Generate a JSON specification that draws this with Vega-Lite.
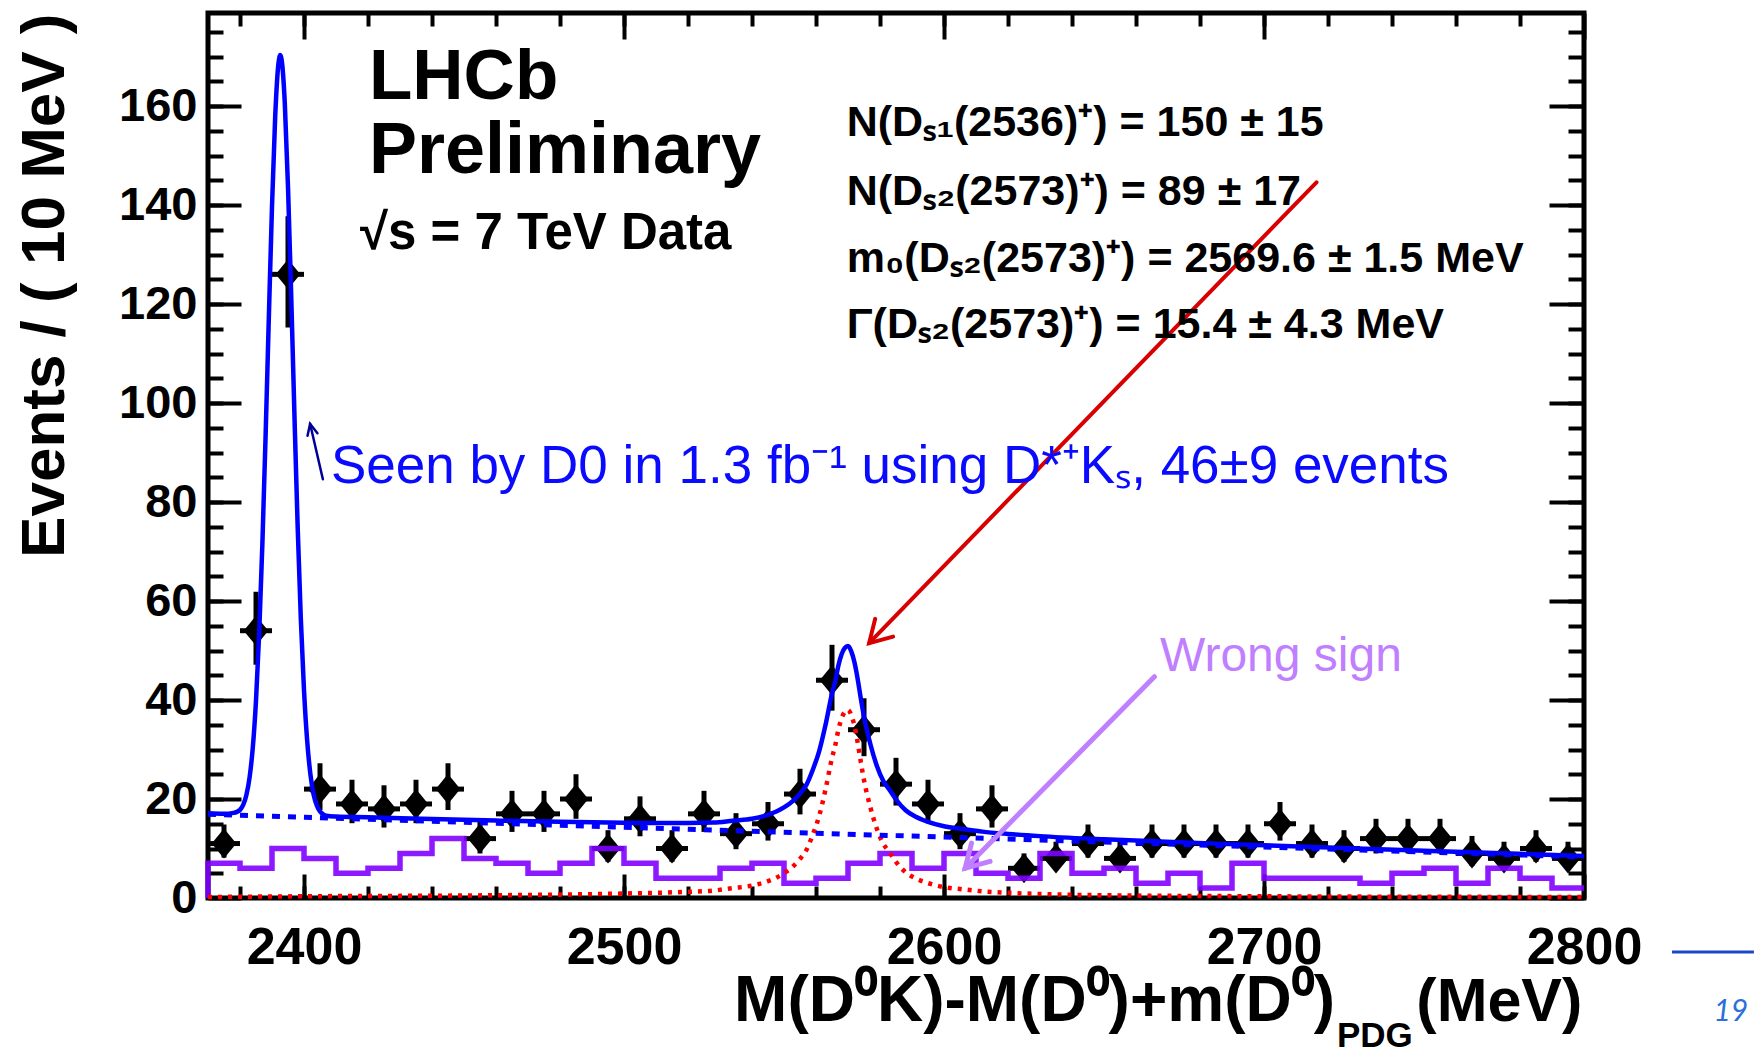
{
  "$schema": "https://vega.github.io/schema/vega-lite/v6.json",
  "width": 1376,
  "height": 885,
  "autosize": {"type": "none"},
  "padding": {"left": 208, "top": 13, "right": 170, "bottom": 151},
  "background": "white",
  "config": {
    "view": {"stroke": "black", "strokeWidth": 5},
    "font": "Liberation Sans",
    "axis": {
      "grid": false,
      "domain": false,
      "tickColor": "black",
      "tickWidth": 4,
      "labelColor": "black",
      "labelFont": "Liberation Sans",
      "labelFontWeight": "bold",
      "titleFont": "Liberation Sans",
      "titleColor": "black"
    }
  },
  "resolve": {"axis": {"x": "independent", "y": "independent"}},
  "datasets": {
    "data": [
      {"m": 2375, "v": 11, "lo": 8.15, "hi": 14.85, "b0": 2370, "b1": 2380},
      {"m": 2385, "v": 54, "lo": 47.13, "hi": 61.87, "b0": 2380, "b1": 2390},
      {"m": 2395, "v": 126, "lo": 115.26, "hi": 137.74, "b0": 2390, "b1": 2400},
      {"m": 2405, "v": 22, "lo": 17.78, "hi": 27.22, "b0": 2400, "b1": 2410},
      {"m": 2415, "v": 19, "lo": 15.11, "hi": 23.89, "b0": 2410, "b1": 2420},
      {"m": 2425, "v": 18, "lo": 14.23, "hi": 22.77, "b0": 2420, "b1": 2430},
      {"m": 2435, "v": 19, "lo": 15.11, "hi": 23.89, "b0": 2430, "b1": 2440},
      {"m": 2445, "v": 22, "lo": 17.78, "hi": 27.22, "b0": 2440, "b1": 2450},
      {"m": 2455, "v": 12, "lo": 9.0, "hi": 16.0, "b0": 2450, "b1": 2460},
      {"m": 2465, "v": 17, "lo": 13.35, "hi": 21.65, "b0": 2460, "b1": 2470},
      {"m": 2475, "v": 17, "lo": 13.35, "hi": 21.65, "b0": 2470, "b1": 2480},
      {"m": 2485, "v": 20, "lo": 16.0, "hi": 25.0, "b0": 2480, "b1": 2490},
      {"m": 2495, "v": 10, "lo": 7.3, "hi": 13.7, "b0": 2490, "b1": 2500},
      {"m": 2505, "v": 16, "lo": 12.47, "hi": 20.53, "b0": 2500, "b1": 2510},
      {"m": 2515, "v": 10, "lo": 7.3, "hi": 13.7, "b0": 2510, "b1": 2520},
      {"m": 2525, "v": 17, "lo": 13.35, "hi": 21.65, "b0": 2520, "b1": 2530},
      {"m": 2535, "v": 13, "lo": 9.86, "hi": 17.14, "b0": 2530, "b1": 2540},
      {"m": 2545, "v": 15, "lo": 11.6, "hi": 19.4, "b0": 2540, "b1": 2550},
      {"m": 2555, "v": 21, "lo": 16.89, "hi": 26.11, "b0": 2550, "b1": 2560},
      {"m": 2565, "v": 44, "lo": 37.85, "hi": 51.15, "b0": 2560, "b1": 2570},
      {"m": 2575, "v": 34, "lo": 28.65, "hi": 40.35, "b0": 2570, "b1": 2580},
      {"m": 2585, "v": 23, "lo": 18.68, "hi": 28.32, "b0": 2580, "b1": 2590},
      {"m": 2595, "v": 19, "lo": 15.11, "hi": 23.89, "b0": 2590, "b1": 2600},
      {"m": 2605, "v": 13, "lo": 9.86, "hi": 17.14, "b0": 2600, "b1": 2610},
      {"m": 2615, "v": 18, "lo": 14.23, "hi": 22.77, "b0": 2610, "b1": 2620},
      {"m": 2625, "v": 6, "lo": 4.0, "hi": 9.0, "b0": 2620, "b1": 2630},
      {"m": 2635, "v": 8, "lo": 5.63, "hi": 11.37, "b0": 2630, "b1": 2640},
      {"m": 2645, "v": 11, "lo": 8.15, "hi": 14.85, "b0": 2640, "b1": 2650},
      {"m": 2655, "v": 8, "lo": 5.63, "hi": 11.37, "b0": 2650, "b1": 2660},
      {"m": 2665, "v": 11, "lo": 8.15, "hi": 14.85, "b0": 2660, "b1": 2670},
      {"m": 2675, "v": 11, "lo": 8.15, "hi": 14.85, "b0": 2670, "b1": 2680},
      {"m": 2685, "v": 11, "lo": 8.15, "hi": 14.85, "b0": 2680, "b1": 2690},
      {"m": 2695, "v": 11, "lo": 8.15, "hi": 14.85, "b0": 2690, "b1": 2700},
      {"m": 2705, "v": 15, "lo": 11.6, "hi": 19.4, "b0": 2700, "b1": 2710},
      {"m": 2715, "v": 11, "lo": 8.15, "hi": 14.85, "b0": 2710, "b1": 2720},
      {"m": 2725, "v": 10, "lo": 7.3, "hi": 13.7, "b0": 2720, "b1": 2730},
      {"m": 2735, "v": 12, "lo": 9.0, "hi": 16.0, "b0": 2730, "b1": 2740},
      {"m": 2745, "v": 12, "lo": 9.0, "hi": 16.0, "b0": 2740, "b1": 2750},
      {"m": 2755, "v": 12, "lo": 9.0, "hi": 16.0, "b0": 2750, "b1": 2760},
      {"m": 2765, "v": 9, "lo": 6.46, "hi": 12.54, "b0": 2760, "b1": 2770},
      {"m": 2775, "v": 8, "lo": 5.63, "hi": 11.37, "b0": 2770, "b1": 2780},
      {"m": 2785, "v": 10, "lo": 7.3, "hi": 13.7, "b0": 2780, "b1": 2790},
      {"m": 2795, "v": 8, "lo": 5.63, "hi": 11.37, "b0": 2790, "b1": 2800}
    ],
    "wrongsign": [
      {"k": 0, "m": 2370, "v": 0},
      {"k": 1, "m": 2370, "v": 7},
      {"k": 2, "m": 2380, "v": 6},
      {"k": 3, "m": 2390, "v": 10},
      {"k": 4, "m": 2400, "v": 8},
      {"k": 5, "m": 2410, "v": 5},
      {"k": 6, "m": 2420, "v": 6},
      {"k": 7, "m": 2430, "v": 9},
      {"k": 8, "m": 2440, "v": 12},
      {"k": 9, "m": 2450, "v": 8},
      {"k": 10, "m": 2460, "v": 7},
      {"k": 11, "m": 2470, "v": 5},
      {"k": 12, "m": 2480, "v": 7},
      {"k": 13, "m": 2490, "v": 10},
      {"k": 14, "m": 2500, "v": 7},
      {"k": 15, "m": 2510, "v": 4},
      {"k": 16, "m": 2520, "v": 4},
      {"k": 17, "m": 2530, "v": 6},
      {"k": 18, "m": 2540, "v": 7},
      {"k": 19, "m": 2550, "v": 3},
      {"k": 20, "m": 2560, "v": 4},
      {"k": 21, "m": 2570, "v": 7},
      {"k": 22, "m": 2580, "v": 9},
      {"k": 23, "m": 2590, "v": 6},
      {"k": 24, "m": 2600, "v": 9},
      {"k": 25, "m": 2610, "v": 5},
      {"k": 26, "m": 2620, "v": 4},
      {"k": 27, "m": 2630, "v": 9},
      {"k": 28, "m": 2640, "v": 5},
      {"k": 29, "m": 2650, "v": 6},
      {"k": 30, "m": 2660, "v": 3},
      {"k": 31, "m": 2670, "v": 5},
      {"k": 32, "m": 2680, "v": 2},
      {"k": 33, "m": 2690, "v": 7},
      {"k": 34, "m": 2700, "v": 4},
      {"k": 35, "m": 2710, "v": 4},
      {"k": 36, "m": 2720, "v": 4},
      {"k": 37, "m": 2730, "v": 3},
      {"k": 38, "m": 2740, "v": 5},
      {"k": 39, "m": 2750, "v": 6},
      {"k": 40, "m": 2760, "v": 3},
      {"k": 41, "m": 2770, "v": 6},
      {"k": 42, "m": 2780, "v": 4},
      {"k": 43, "m": 2790, "v": 2},
      {"k": 44, "m": 2800, "v": 2}
    ],
    "signal": [
      {"m": 2370, "v": 0.2}, {"m": 2400, "v": 0.35}, {"m": 2450, "v": 0.5},
      {"m": 2500, "v": 0.9}, {"m": 2510, "v": 1.05}, {"m": 2520, "v": 1.25},
      {"m": 2528, "v": 1.5}, {"m": 2534, "v": 2.0}, {"m": 2540, "v": 2.5},
      {"m": 2545, "v": 3.4}, {"m": 2550, "v": 5.0}, {"m": 2553, "v": 6.5},
      {"m": 2555, "v": 7.9}, {"m": 2557, "v": 9.7}, {"m": 2559, "v": 12.8},
      {"m": 2561, "v": 16.6}, {"m": 2563, "v": 22.0}, {"m": 2565, "v": 28.3},
      {"m": 2566, "v": 30.8}, {"m": 2567, "v": 34.0}, {"m": 2568, "v": 36.3},
      {"m": 2569, "v": 37.6}, {"m": 2570, "v": 38.0}, {"m": 2571, "v": 37.0},
      {"m": 2572, "v": 34.8}, {"m": 2573, "v": 31.5}, {"m": 2574, "v": 27.5},
      {"m": 2575, "v": 23.8}, {"m": 2577, "v": 18.3}, {"m": 2579, "v": 14.0},
      {"m": 2581, "v": 11.0}, {"m": 2583, "v": 9.2}, {"m": 2585, "v": 7.3},
      {"m": 2588, "v": 5.2}, {"m": 2591, "v": 4.0}, {"m": 2595, "v": 3.0},
      {"m": 2600, "v": 2.2}, {"m": 2606, "v": 1.75}, {"m": 2612, "v": 1.35},
      {"m": 2620, "v": 1.05}, {"m": 2630, "v": 0.8}, {"m": 2650, "v": 0.55},
      {"m": 2700, "v": 0.35}, {"m": 2750, "v": 0.25}, {"m": 2800, "v": 0.2}
    ],
    "background": [
      {"m": 2370, "v": 16.9}, {"m": 2450, "v": 15.3}, {"m": 2530, "v": 13.7},
      {"m": 2600, "v": 12.3}, {"m": 2700, "v": 10.3}, {"m": 2800, "v": 8.3}
    ],
    "total": [
      {"m": 2370, "v": 17.1}, {"m": 2375, "v": 17.0}, {"m": 2378, "v": 17.2},
      {"m": 2379, "v": 17.4}, {"m": 2380, "v": 17.8}, {"m": 2381, "v": 18.8},
      {"m": 2382, "v": 20.8}, {"m": 2383, "v": 24.4}, {"m": 2384, "v": 30.4},
      {"m": 2385, "v": 39.9}, {"m": 2386, "v": 53.6}, {"m": 2387, "v": 71.7},
      {"m": 2388, "v": 93.4}, {"m": 2389, "v": 117.0}, {"m": 2390, "v": 139.7},
      {"m": 2391, "v": 157.9}, {"m": 2392, "v": 168.5}, {"m": 2392.6, "v": 170.3},
      {"m": 2393, "v": 169.4}, {"m": 2394, "v": 160.6}, {"m": 2395, "v": 143.7},
      {"m": 2396, "v": 121.7}, {"m": 2397, "v": 97.9}, {"m": 2398, "v": 75.4},
      {"m": 2399, "v": 56.5}, {"m": 2400, "v": 42.0}, {"m": 2401, "v": 31.7},
      {"m": 2402, "v": 25.0}, {"m": 2403, "v": 20.9}, {"m": 2404, "v": 18.7},
      {"m": 2405, "v": 17.5}, {"m": 2406, "v": 16.9}, {"m": 2407, "v": 16.6},
      {"m": 2410, "v": 16.45}, {"m": 2420, "v": 16.3}, {"m": 2440, "v": 15.95},
      {"m": 2460, "v": 15.65}, {"m": 2480, "v": 15.4}, {"m": 2500, "v": 15.2},
      {"m": 2510, "v": 15.15}, {"m": 2520, "v": 15.15}, {"m": 2528, "v": 15.24},
      {"m": 2534, "v": 15.62}, {"m": 2540, "v": 16.0}, {"m": 2545, "v": 16.8},
      {"m": 2550, "v": 18.3}, {"m": 2553, "v": 19.74}, {"m": 2555, "v": 21.1},
      {"m": 2557, "v": 22.86}, {"m": 2559, "v": 25.92}, {"m": 2561, "v": 29.68},
      {"m": 2563, "v": 35.04}, {"m": 2565, "v": 41.3}, {"m": 2566, "v": 43.78},
      {"m": 2567, "v": 46.96}, {"m": 2568, "v": 49.24}, {"m": 2569, "v": 50.52},
      {"m": 2570, "v": 50.9}, {"m": 2571, "v": 49.88}, {"m": 2572, "v": 47.66},
      {"m": 2573, "v": 44.34}, {"m": 2574, "v": 40.32}, {"m": 2575, "v": 36.6},
      {"m": 2577, "v": 31.06}, {"m": 2579, "v": 26.72}, {"m": 2581, "v": 23.68},
      {"m": 2583, "v": 21.84}, {"m": 2585, "v": 19.9}, {"m": 2588, "v": 17.74},
      {"m": 2591, "v": 16.48}, {"m": 2595, "v": 15.4}, {"m": 2600, "v": 14.5},
      {"m": 2606, "v": 13.93}, {"m": 2612, "v": 13.41}, {"m": 2620, "v": 12.95},
      {"m": 2630, "v": 12.5}, {"m": 2650, "v": 11.85}, {"m": 2700, "v": 10.65},
      {"m": 2750, "v": 9.55}, {"m": 2800, "v": 8.5}
    ],
    "arrows": [
      {"a": "red", "p": "shaft", "k": 0, "m": 2716.4, "v": 144.6},
      {"a": "red", "p": "shaft", "k": 1, "m": 2576.6, "v": 51.5},
      {"a": "red", "p": "head", "k": 0, "m": 2584.1, "v": 52.8},
      {"a": "red", "p": "head", "k": 1, "m": 2576.6, "v": 51.5},
      {"a": "red", "p": "head", "k": 2, "m": 2578.5, "v": 56.4},
      {"a": "ws", "p": "shaft", "k": 0, "m": 2665.75, "v": 44.7},
      {"a": "ws", "p": "shaft", "k": 1, "m": 2606.6, "v": 6.0},
      {"a": "ws", "p": "head", "k": 0, "m": 2614.4, "v": 7.4},
      {"a": "ws", "p": "head", "k": 1, "m": 2606.6, "v": 6.0},
      {"a": "ws", "p": "head", "k": 2, "m": 2608.6, "v": 11.1},
      {"a": "d0", "p": "shaft", "k": 0, "m": 2405.9, "v": 84.6},
      {"a": "d0", "p": "shaft", "k": 1, "m": 2401.9, "v": 95.8},
      {"a": "d0", "p": "head", "k": 0, "m": 2404.2, "v": 93.9},
      {"a": "d0", "p": "head", "k": 1, "m": 2401.9, "v": 95.8},
      {"a": "d0", "p": "head", "k": 2, "m": 2401.1, "v": 93.4}
    ],
    "labels": [
      {"id": "lhcb", "t": "LHCb", "m": 2420.3, "v": 161.5},
      {"id": "prelim", "t": "Preliminary", "m": 2420.3, "v": 146.4},
      {"id": "sqrts", "t": "√s = 7 TeV Data", "m": 2417.5, "v": 131.2},
      {"id": "fit", "t": "N(Dₛ₁(2536)⁺) =  150 ± 15", "m": 2569.6, "v": 153.9},
      {"id": "fit", "t": "N(Dₛ₂(2573)⁺) =  89 ± 17", "m": 2569.6, "v": 140.1},
      {"id": "fit", "t": "m₀(Dₛ₂(2573)⁺) =  2569.6 ± 1.5 MeV", "m": 2569.6, "v": 126.5},
      {"id": "fit", "t": "Γ(Dₛ₂(2573)⁺) =  15.4 ± 4.3 MeV", "m": 2569.6, "v": 113.2},
      {"id": "d0", "t": "Seen by D0 in 1.3 fb⁻¹ using D*⁺Kₛ, 46±9 events", "m": 2408.4, "v": 83.8},
      {"id": "ws", "t": "Wrong sign", "m": 2667.5, "v": 45.9},
      {"id": "xt", "t": "M(D⁰K)-M(D⁰)+m(D⁰)", "m": 2722.2, "v": -24.85},
      {"id": "pdg", "t": "PDG", "m": 2722.8, "v": -30.2},
      {"id": "mev", "t": "(MeV)", "m": 2747.6, "v": -24.85},
      {"id": "page", "t": "19", "m": 2845.9, "v": -24.85}
    ],
    "rulerline": [
      {"m": 2827.5, "m2": 2853.1, "v": -10.9}
    ]
  },
  "layer": [
    {
      "data": {"name": "data"},
      "mark": {"type": "rule", "color": "black", "strokeWidth": 5},
      "encoding": {
        "x": {"field": "m", "type": "quantitative",
              "scale": {"domain": [2370, 2800], "nice": false, "zero": false},
              "axis": {"orient": "bottom", "values": [2400, 2500, 2600, 2700, 2800], "format": "d",
                       "ticks": false, "labels": true, "labelFontSize": 52, "labelPadding": 24,
                       "labelFlush": false, "labelOverlap": false, "labelBound": false, "title": null}},
        "y": {"field": "lo", "type": "quantitative",
              "scale": {"domain": [0, 178.8], "nice": false, "zero": false},
              "axis": {"orient": "left", "values": [0, 20, 40, 60, 80, 100, 120, 140, 160], "format": "d",
                       "ticks": false, "labels": true, "labelFontSize": 47, "labelPadding": 11,
                       "labelFlush": false, "labelOverlap": false, "labelBound": false,
                       "title": "Events / ( 10 MeV )", "titleFontSize": 62, "titleFontWeight": "bold",
                       "titleAnchor": "end", "titleX": -145, "titleBaseline": "alphabetic", "titleAngle": 270}},
        "y2": {"field": "hi"}
      }
    },
    {
      "data": {"name": "data"},
      "mark": {"type": "rule", "color": "black", "strokeWidth": 5},
      "encoding": {
        "x": {"field": "b0", "type": "quantitative",
              "scale": {"domain": [2370, 2800], "nice": false, "zero": false},
              "axis": {"orient": "bottom", "values": [2400, 2500, 2600, 2700, 2800],
                       "ticks": true, "tickSize": -24, "labels": false, "title": null}},
        "x2": {"field": "b1"},
        "y": {"field": "v", "type": "quantitative",
              "scale": {"domain": [0, 178.8], "nice": false, "zero": false},
              "axis": {"orient": "left", "values": [0, 20, 40, 60, 80, 100, 120, 140, 160],
                       "ticks": true, "tickSize": -33, "labels": false, "title": null}}
      }
    },
    {
      "data": {"name": "data"},
      "mark": {"type": "point", "shape": "M0,-1L0.82,0L0,1L-0.82,0Z", "size": 900,
               "filled": true, "color": "black", "opacity": 1},
      "encoding": {
        "x": {"field": "m", "type": "quantitative",
              "scale": {"domain": [2370, 2800], "nice": false, "zero": false},
              "axis": {"orient": "bottom",
                       "values": [2380, 2400, 2420, 2440, 2460, 2480, 2500, 2520, 2540, 2560, 2580, 2600, 2620, 2640, 2660, 2680, 2700, 2720, 2740, 2760, 2780],
                       "ticks": true, "tickSize": -12, "labels": false, "title": null}},
        "y": {"field": "v", "type": "quantitative",
              "scale": {"domain": [0, 178.8], "nice": false, "zero": false},
              "axis": {"orient": "left",
                       "values": [5, 10, 15, 20, 25, 30, 35, 40, 45, 50, 55, 60, 65, 70, 75, 80, 85, 90, 95, 100, 105, 110, 115, 120, 125, 130, 135, 140, 145, 150, 155, 160, 165, 170, 175],
                       "ticks": true, "tickSize": -15, "labels": false, "title": null}}
      }
    },
    {
      "data": {"name": "wrongsign"},
      "mark": {"type": "line", "interpolate": "step-after", "color": "#8000ff", "strokeWidth": 5.5, "opacity": 0.9},
      "encoding": {
        "x": {"field": "m", "type": "quantitative",
              "scale": {"domain": [2370, 2800], "nice": false, "zero": false},
              "axis": {"orient": "top", "values": [2400, 2500, 2600, 2700, 2800],
                       "ticks": true, "tickSize": -26, "labels": false, "title": null}},
        "y": {"field": "v", "type": "quantitative",
              "scale": {"domain": [0, 178.8], "nice": false, "zero": false},
              "axis": {"orient": "right", "values": [0, 20, 40, 60, 80, 100, 120, 140, 160],
                       "ticks": true, "tickSize": -35, "labels": false, "title": null}},
        "order": {"field": "k", "type": "quantitative"}
      }
    },
    {
      "data": {"name": "signal"},
      "mark": {"type": "line", "interpolate": "monotone", "color": "#ff0000", "strokeWidth": 4.5, "strokeDash": [4, 6]},
      "encoding": {
        "x": {"field": "m", "type": "quantitative",
              "scale": {"domain": [2370, 2800], "nice": false, "zero": false},
              "axis": {"orient": "top",
                       "values": [2380, 2400, 2420, 2440, 2460, 2480, 2500, 2520, 2540, 2560, 2580, 2600, 2620, 2640, 2660, 2680, 2700, 2720, 2740, 2760, 2780],
                       "ticks": true, "tickSize": -13, "labels": false, "title": null}},
        "y": {"field": "v", "type": "quantitative",
              "scale": {"domain": [0, 178.8], "nice": false, "zero": false},
              "axis": {"orient": "right",
                       "values": [5, 10, 15, 20, 25, 30, 35, 40, 45, 50, 55, 60, 65, 70, 75, 80, 85, 90, 95, 100, 105, 110, 115, 120, 125, 130, 135, 140, 145, 150, 155, 160, 165, 170, 175],
                       "ticks": true, "tickSize": -16, "labels": false, "title": null}}
      }
    },
    {
      "data": {"name": "background"},
      "mark": {"type": "line", "color": "#0000ff", "strokeWidth": 5, "strokeDash": [8, 8]},
      "encoding": {
        "x": {"field": "m", "type": "quantitative", "scale": {"domain": [2370, 2800], "nice": false, "zero": false}, "axis": null},
        "y": {"field": "v", "type": "quantitative", "scale": {"domain": [0, 178.8], "nice": false, "zero": false}, "axis": null}
      }
    },
    {
      "data": {"name": "total"},
      "mark": {"type": "line", "interpolate": "monotone", "color": "#0000ff", "strokeWidth": 4.5},
      "encoding": {
        "x": {"field": "m", "type": "quantitative", "scale": {"domain": [2370, 2800], "nice": false, "zero": false}, "axis": null},
        "y": {"field": "v", "type": "quantitative", "scale": {"domain": [0, 178.8], "nice": false, "zero": false}, "axis": null}
      }
    },
    {
      "data": {"name": "arrows"},
      "transform": [{"filter": "datum.a === 'red'"}],
      "mark": {"type": "line", "color": "#d80000", "strokeWidth": 4, "strokeCap": "round", "strokeJoin": "miter"},
      "encoding": {
        "x": {"field": "m", "type": "quantitative", "scale": {"domain": [2370, 2800], "nice": false, "zero": false}, "axis": null},
        "y": {"field": "v", "type": "quantitative", "scale": {"domain": [0, 178.8], "nice": false, "zero": false}, "axis": null},
        "detail": {"field": "p"},
        "order": {"field": "k", "type": "quantitative"}
      }
    },
    {
      "data": {"name": "arrows"},
      "transform": [{"filter": "datum.a === 'ws'"}],
      "mark": {"type": "line", "color": "#bf7fff", "strokeWidth": 5, "strokeCap": "round", "strokeJoin": "miter"},
      "encoding": {
        "x": {"field": "m", "type": "quantitative", "scale": {"domain": [2370, 2800], "nice": false, "zero": false}, "axis": null},
        "y": {"field": "v", "type": "quantitative", "scale": {"domain": [0, 178.8], "nice": false, "zero": false}, "axis": null},
        "detail": {"field": "p"},
        "order": {"field": "k", "type": "quantitative"}
      }
    },
    {
      "data": {"name": "arrows"},
      "transform": [{"filter": "datum.a === 'd0'"}],
      "mark": {"type": "line", "color": "#000099", "strokeWidth": 2.5, "strokeCap": "round"},
      "encoding": {
        "x": {"field": "m", "type": "quantitative", "scale": {"domain": [2370, 2800], "nice": false, "zero": false}, "axis": null},
        "y": {"field": "v", "type": "quantitative", "scale": {"domain": [0, 178.8], "nice": false, "zero": false}, "axis": null},
        "detail": {"field": "p"},
        "order": {"field": "k", "type": "quantitative"}
      }
    },
    {
      "data": {"name": "labels"},
      "transform": [{"filter": "datum.id === 'lhcb'"}],
      "mark": {"type": "text", "align": "left", "baseline": "alphabetic", "font": "Liberation Sans", "fontSize": 71, "fontWeight": "bold", "color": "black"},
      "encoding": {
        "x": {"field": "m", "type": "quantitative", "scale": {"domain": [2370, 2800], "nice": false, "zero": false}, "axis": null},
        "y": {"field": "v", "type": "quantitative", "scale": {"domain": [0, 178.8], "nice": false, "zero": false}, "axis": null},
        "text": {"field": "t", "type": "nominal"}
      }
    },
    {
      "data": {"name": "labels"},
      "transform": [{"filter": "datum.id === 'prelim'"}],
      "mark": {"type": "text", "align": "left", "baseline": "alphabetic", "font": "Liberation Sans", "fontSize": 72, "fontWeight": "bold", "color": "black"},
      "encoding": {
        "x": {"field": "m", "type": "quantitative", "scale": {"domain": [2370, 2800], "nice": false, "zero": false}, "axis": null},
        "y": {"field": "v", "type": "quantitative", "scale": {"domain": [0, 178.8], "nice": false, "zero": false}, "axis": null},
        "text": {"field": "t", "type": "nominal"}
      }
    },
    {
      "data": {"name": "labels"},
      "transform": [{"filter": "datum.id === 'sqrts'"}],
      "mark": {"type": "text", "align": "left", "baseline": "alphabetic", "font": "Liberation Sans", "fontSize": 51, "fontWeight": "bold", "color": "black"},
      "encoding": {
        "x": {"field": "m", "type": "quantitative", "scale": {"domain": [2370, 2800], "nice": false, "zero": false}, "axis": null},
        "y": {"field": "v", "type": "quantitative", "scale": {"domain": [0, 178.8], "nice": false, "zero": false}, "axis": null},
        "text": {"field": "t", "type": "nominal"}
      }
    },
    {
      "data": {"name": "labels"},
      "transform": [{"filter": "datum.id === 'fit'"}],
      "mark": {"type": "text", "align": "left", "baseline": "alphabetic", "font": "Liberation Sans", "fontSize": 43, "fontWeight": "bold", "color": "black"},
      "encoding": {
        "x": {"field": "m", "type": "quantitative", "scale": {"domain": [2370, 2800], "nice": false, "zero": false}, "axis": null},
        "y": {"field": "v", "type": "quantitative", "scale": {"domain": [0, 178.8], "nice": false, "zero": false}, "axis": null},
        "text": {"field": "t", "type": "nominal"}
      }
    },
    {
      "data": {"name": "labels"},
      "transform": [{"filter": "datum.id === 'd0'"}],
      "mark": {"type": "text", "align": "left", "baseline": "alphabetic", "font": "Liberation Sans", "fontSize": 53, "color": "#0a0aff"},
      "encoding": {
        "x": {"field": "m", "type": "quantitative", "scale": {"domain": [2370, 2800], "nice": false, "zero": false}, "axis": null},
        "y": {"field": "v", "type": "quantitative", "scale": {"domain": [0, 178.8], "nice": false, "zero": false}, "axis": null},
        "text": {"field": "t", "type": "nominal"}
      }
    },
    {
      "data": {"name": "labels"},
      "transform": [{"filter": "datum.id === 'ws'"}],
      "mark": {"type": "text", "align": "left", "baseline": "alphabetic", "font": "Liberation Sans", "fontSize": 48, "color": "#bf7fff"},
      "encoding": {
        "x": {"field": "m", "type": "quantitative", "scale": {"domain": [2370, 2800], "nice": false, "zero": false}, "axis": null},
        "y": {"field": "v", "type": "quantitative", "scale": {"domain": [0, 178.8], "nice": false, "zero": false}, "axis": null},
        "text": {"field": "t", "type": "nominal"}
      }
    },
    {
      "data": {"name": "labels"},
      "transform": [{"filter": "datum.id === 'xt'"}],
      "mark": {"type": "text", "align": "right", "baseline": "alphabetic", "font": "Liberation Sans", "fontSize": 64, "fontWeight": "bold", "color": "black"},
      "encoding": {
        "x": {"field": "m", "type": "quantitative", "scale": {"domain": [2370, 2800], "nice": false, "zero": false}, "axis": null},
        "y": {"field": "v", "type": "quantitative", "scale": {"domain": [0, 178.8], "nice": false, "zero": false}, "axis": null},
        "text": {"field": "t", "type": "nominal"}
      }
    },
    {
      "data": {"name": "labels"},
      "transform": [{"filter": "datum.id === 'pdg'"}],
      "mark": {"type": "text", "align": "left", "baseline": "alphabetic", "font": "Liberation Sans", "fontSize": 35, "fontWeight": "bold", "color": "black"},
      "encoding": {
        "x": {"field": "m", "type": "quantitative", "scale": {"domain": [2370, 2800], "nice": false, "zero": false}, "axis": null},
        "y": {"field": "v", "type": "quantitative", "scale": {"domain": [0, 178.8], "nice": false, "zero": false}, "axis": null},
        "text": {"field": "t", "type": "nominal"}
      }
    },
    {
      "data": {"name": "labels"},
      "transform": [{"filter": "datum.id === 'mev'"}],
      "mark": {"type": "text", "align": "left", "baseline": "alphabetic", "font": "Liberation Sans", "fontSize": 61, "fontWeight": "bold", "color": "black"},
      "encoding": {
        "x": {"field": "m", "type": "quantitative", "scale": {"domain": [2370, 2800], "nice": false, "zero": false}, "axis": null},
        "y": {"field": "v", "type": "quantitative", "scale": {"domain": [0, 178.8], "nice": false, "zero": false}, "axis": null},
        "text": {"field": "t", "type": "nominal"}
      }
    },
    {
      "data": {"name": "labels"},
      "transform": [{"filter": "datum.id === 'page'"}],
      "mark": {"type": "text", "align": "center", "baseline": "alphabetic", "font": "Lato", "fontSize": 30, "fontStyle": "italic", "color": "#2a6fdb"},
      "encoding": {
        "x": {"field": "m", "type": "quantitative", "scale": {"domain": [2370, 2800], "nice": false, "zero": false}, "axis": null},
        "y": {"field": "v", "type": "quantitative", "scale": {"domain": [0, 178.8], "nice": false, "zero": false}, "axis": null},
        "text": {"field": "t", "type": "nominal"}
      }
    },
    {
      "data": {"name": "rulerline"},
      "mark": {"type": "rule", "color": "#1a47c8", "strokeWidth": 3},
      "encoding": {
        "x": {"field": "m", "type": "quantitative", "scale": {"domain": [2370, 2800], "nice": false, "zero": false}, "axis": null},
        "x2": {"field": "m2"},
        "y": {"field": "v", "type": "quantitative", "scale": {"domain": [0, 178.8], "nice": false, "zero": false}, "axis": null}
      }
    }
  ]
}
